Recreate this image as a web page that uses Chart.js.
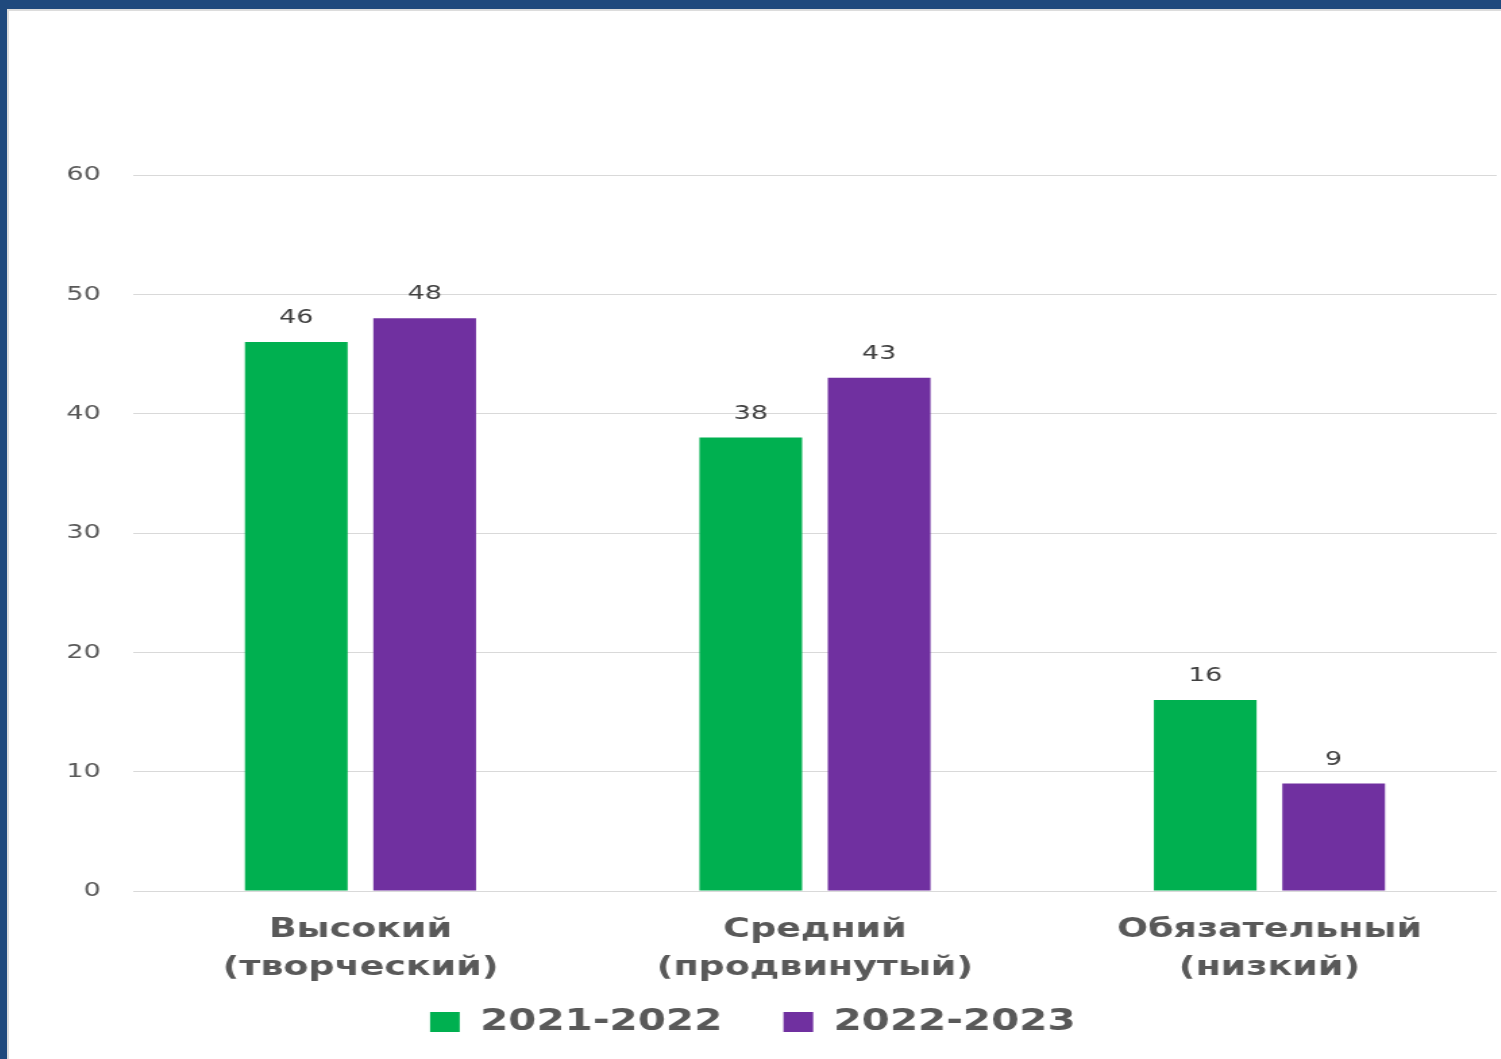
<!DOCTYPE html>
<html lang="ru">
<head>
    <meta charset="UTF-8">
    <title>Уровни</title>
    <script src="https://cdn.jsdelivr.net/npm/chart.js"></script>
    <style>
        html, body { margin: 0; padding: 0; background: #fff; }
        .frame {
            position: absolute; left: 0; top: 0;
            width: 1501px; height: 1059px;
            box-sizing: border-box;
            border-top: 9px solid #1F497D;
            border-left: 7px solid #1F497D;
            overflow: hidden;
        }
        .inner {
            position: absolute; left: 0; top: 0; right: 0; bottom: 0;
            border-top: 2px solid #dcdcdc;
            border-left: 2px solid #dcdcdc;
        }
        /* the original picture is stretched sideways */
        #chart {
            position: absolute; left: 0; top: 0;
            transform: scaleX(1.35);
            transform-origin: left top;
        }
    </style>
</head>
<body>
    <div class="frame"><div class="inner">
        <canvas id="chart" width="1105" height="1048"></canvas>
    </div></div>

    <script>
        // Data
        const categories = [['Высокий', '(творческий)'], ['Средний', '(продвинутый)'], ['Обязательный', '(низкий)']];
        const seriesNames = ['2021-2022', '2022-2023'];
        const values2021 = [46, 38, 16];
        const values2022 = [48, 43, 9];
        const yTicks = [0, 10, 20, 30, 40, 50, 60];

        const FONT = "'DejaVu Sans', Verdana, sans-serif";

        // value labels above bars
        const valueLabels = {
            id: 'valueLabels',
            afterDatasetsDraw(chart) {
                const ctx = chart.ctx;
                ctx.save();
                ctx.font = '20px ' + FONT;
                ctx.fillStyle = '#404040';
                ctx.textAlign = 'center';
                ctx.textBaseline = 'middle';
                chart.data.datasets.forEach((ds, i) => {
                    chart.getDatasetMeta(i).data.forEach((bar, j) => {
                        ctx.fillText(ds.data[j], bar.x, bar.y - 24);
                    });
                });
                ctx.restore();
            }
        };

        const defaultLabels = Chart.defaults.plugins.legend.labels.generateLabels;

        new Chart(document.getElementById('chart').getContext('2d'), {
            type: 'bar',
            data: {
                labels: categories,
                datasets: [{
                    label: seriesNames[0],
                    data: values2021,
                    backgroundColor: '#00B050'
                }, {
                    label: seriesNames[1],
                    data: values2022,
                    backgroundColor: '#7030A0'
                }]
            },
            options: {
                responsive: false,
                animation: false,
                devicePixelRatio: 1,
                categoryPercentage: 0.565,
                barPercentage: 0.8,
                layout: { padding: { top: 164, right: 3, bottom: 12, left: 0 } },
                plugins: {
                    tooltip: { enabled: false },
                    legend: {
                        position: 'bottom',
                        labels: {
                            boxWidth: 22,
                            boxHeight: 20,
                            padding: 14,
                            color: '#595959',
                            font: { family: FONT, size: 30, weight: 'bold' },
                            // wider gap between the two items without a taller legend
                            generateLabels(chart) {
                                const items = defaultLabels(chart);
                                items.forEach((it, i) => {
                                    if (i < items.length - 1) it.text += '\u00a0\u00a0\u00a0';
                                });
                                return items;
                            }
                        }
                    }
                },
                scales: {
                    x: {
                        grid: { display: false },
                        border: { display: false },
                        ticks: {
                            color: '#595959',
                            padding: 12,
                            maxRotation: 0,
                            font: { family: FONT, size: 27, weight: 'bold', lineHeight: 1.4 }
                        },
                        afterFit(scale) { scale.height = 102; }
                    },
                    y: {
                        min: 0,
                        max: 60,
                        afterBuildTicks(scale) {
                            scale.ticks = yTicks.map(v => ({ value: v }));
                        },
                        grid: { color: '#d9d9d9', lineWidth: 1, drawTicks: false },
                        border: { display: false },
                        ticks: {
                            color: '#595959',
                            padding: 24,
                            font: { family: FONT, size: 20 }
                        },
                        afterFit(scale) { scale.width = 92; }
                    }
                }
            },
            plugins: [valueLabels]
        });
    </script>
</body>
</html>
